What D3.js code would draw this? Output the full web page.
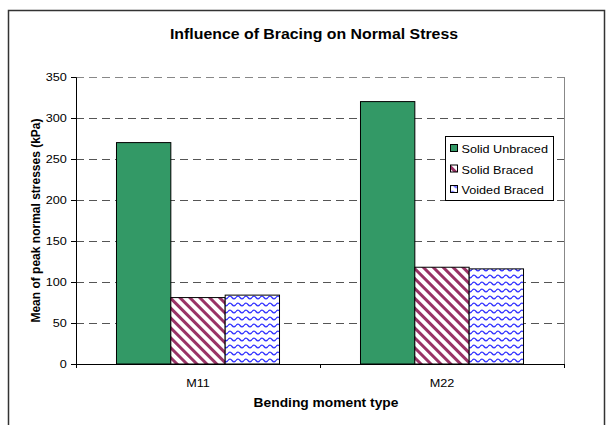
<!DOCTYPE html>
<html>
<head>
<meta charset="utf-8">
<script src="https://cdn.jsdelivr.net/npm/d3@7"></script>
<style>
  body { margin: 0; background: #fff; }
  svg { display: block; font-family: 'Liberation Sans', Arial, sans-serif; }
</style>
</head>
<body>
<svg id="chart" width="611" height="425"></svg>
<script>
// chart values
const categories = ['M11', 'M22'];
const seriesNames = ['Solid Unbraced', 'Solid Braced', 'Voided Braced'];
const solidUnbraced = [270, 320];
const solidBraced = [81, 118];
const voidedBraced = [84, 116];
const yTicks = [0, 50, 100, 150, 200, 250, 300, 350];

const seriesValues = [solidUnbraced, solidBraced, voidedBraced];
const fills = ['#339966', 'url(#stripes)', 'url(#waves)'];
// the original picture is a little wider than tall, so the text is stretched
const stretch = 'scale(1.15,1)';

const svg = d3.select('#chart');
const margin = { top: 77, right: 47, bottom: 61, left: 76 };
const width = svg.attr('width') - margin.left - margin.right;
const height = svg.attr('height') - margin.top - margin.bottom;

// patterns
const defs = svg.append('defs');
const stripes = defs.append('pattern')
  .attr('id', 'stripes')
  .attr('patternUnits', 'userSpaceOnUse')
  .attr('width', 7).attr('height', 7)
  .attr('patternTransform', 'rotate(-45)');
stripes.append('rect').attr('width', 7).attr('height', 7).attr('fill', '#fff');
stripes.append('rect').attr('width', 3).attr('height', 7).attr('fill', '#993366');

const waves = defs.append('pattern')
  .attr('id', 'waves')
  .attr('patternUnits', 'userSpaceOnUse')
  .attr('width', 8).attr('height', 7);
waves.append('rect').attr('width', 8).attr('height', 7).attr('fill', '#fff');
waves.append('path')
  .attr('d', 'M0,3.5 Q2,0.8 4,3.5 T8,3.5')
  .attr('fill', 'none')
  .attr('stroke', '#3333ff')
  .attr('stroke-width', 1.3);

// outer chart border
svg.append('rect')
  .attr('x', 8.5).attr('y', 10.5)
  .attr('width', 596).attr('height', 430)
  .attr('fill', 'none')
  .attr('stroke', '#333')
  .attr('stroke-width', 1.5);

// title
svg.append('text')
  .attr('transform', `translate(314,39) ${stretch}`)
  .attr('text-anchor', 'middle')
  .style('font-size', '13.8px')
  .style('font-weight', 'bold')
  .text('Influence of Bracing on Normal Stress');

const g = svg.append('g').attr('transform', `translate(${margin.left},${margin.top})`);

// scales
const x0 = d3.scaleBand().domain(categories).range([0, width]);
const x1 = d3.scaleBand().domain(seriesNames).range([0, x0.bandwidth()]).paddingOuter(0.745);
const y = d3.scaleLinear().domain([0, 350]).range([height, 0]);

// gridlines
g.append('g')
  .selectAll('line')
  .data(yTicks.filter(d => d > 0))
  .enter()
  .append('line')
  .attr('x1', 0).attr('x2', width)
  .attr('y1', d => Math.round(y(d)) + 0.5)
  .attr('y2', d => Math.round(y(d)) + 0.5)
  .attr('stroke', d => d === 350 ? '#888' : '#555')
  .attr('stroke-dasharray', '8,5');

// plot area right border
g.append('line')
  .attr('x1', width + 0.5).attr('x2', width + 0.5)
  .attr('y1', 0).attr('y2', height)
  .attr('stroke', '#888');

// bars
const groups = g.selectAll('.cat')
  .data(categories)
  .enter()
  .append('g')
  .attr('class', 'cat')
  .attr('transform', d => `translate(${x0(d)},0)`);

groups.selectAll('rect')
  .data((c, ci) => seriesNames.map((s, si) => ({ s, si, v: seriesValues[si][ci] })))
  .enter()
  .append('rect')
  .attr('x', d => x1(d.s))
  .attr('y', d => y(d.v))
  .attr('width', x1.bandwidth())
  .attr('height', d => height - y(d.v))
  .attr('fill', d => fills[d.si])
  .attr('stroke', '#000')
  .attr('stroke-width', 1);

// y axis
const yAxis = g.append('g')
  .call(d3.axisLeft(y).tickValues(yTicks).tickSize(5).tickPadding(3));
yAxis.select('.domain').attr('stroke', '#000');
yAxis.selectAll('text')
  .attr('transform', stretch)
  .style('font-size', '11px')
  .style('font-family', "'Liberation Sans', Arial, sans-serif");

// x axis
const xAxis = g.append('g')
  .attr('transform', `translate(0,${height})`)
  .call(d3.axisBottom(x0).tickSize(0).tickPadding(15));
xAxis.select('.domain').attr('stroke', '#000');
xAxis.selectAll('text')
  .attr('transform', stretch)
  .style('font-size', '11px')
  .style('font-family', "'Liberation Sans', Arial, sans-serif");
xAxis.selectAll('.sep')
  .data([0, x0.bandwidth(), width])
  .enter()
  .append('line')
  .attr('class', 'sep')
  .attr('x1', d => d + 0.5).attr('x2', d => d + 0.5)
  .attr('y1', 0).attr('y2', 4)
  .attr('stroke', '#000');

// axis titles
svg.append('text')
  .attr('transform', `translate(40,${margin.top + height / 2}) rotate(-90)`)
  .attr('text-anchor', 'middle')
  .style('font-size', '12px')
  .style('font-weight', 'bold')
  .text('Mean of peak normal stresses (kPa)');

svg.append('text')
  .attr('transform', `translate(326,407) ${stretch}`)
  .attr('text-anchor', 'middle')
  .style('font-size', '12px')
  .style('font-weight', 'bold')
  .text('Bending moment type');

// legend
const legend = svg.append('g').attr('transform', 'translate(445.5,136.5)');
legend.append('rect')
  .attr('width', 108).attr('height', 64)
  .attr('fill', '#fff')
  .attr('stroke', '#000');
const items = legend.selectAll('.item')
  .data(seriesNames)
  .enter()
  .append('g')
  .attr('class', 'item')
  .attr('transform', (d, i) => `translate(5,${12 + i * 20.5})`);
items.append('rect')
  .attr('x', 0).attr('y', -4)
  .attr('width', 7).attr('height', 7)
  .attr('fill', (d, i) => fills[i])
  .attr('stroke', '#000');
items.append('text')
  .attr('transform', `translate(11,4.5) ${stretch}`)
  .style('font-size', '11px')
  .text(d => d);
</script>
</body>
</html>
